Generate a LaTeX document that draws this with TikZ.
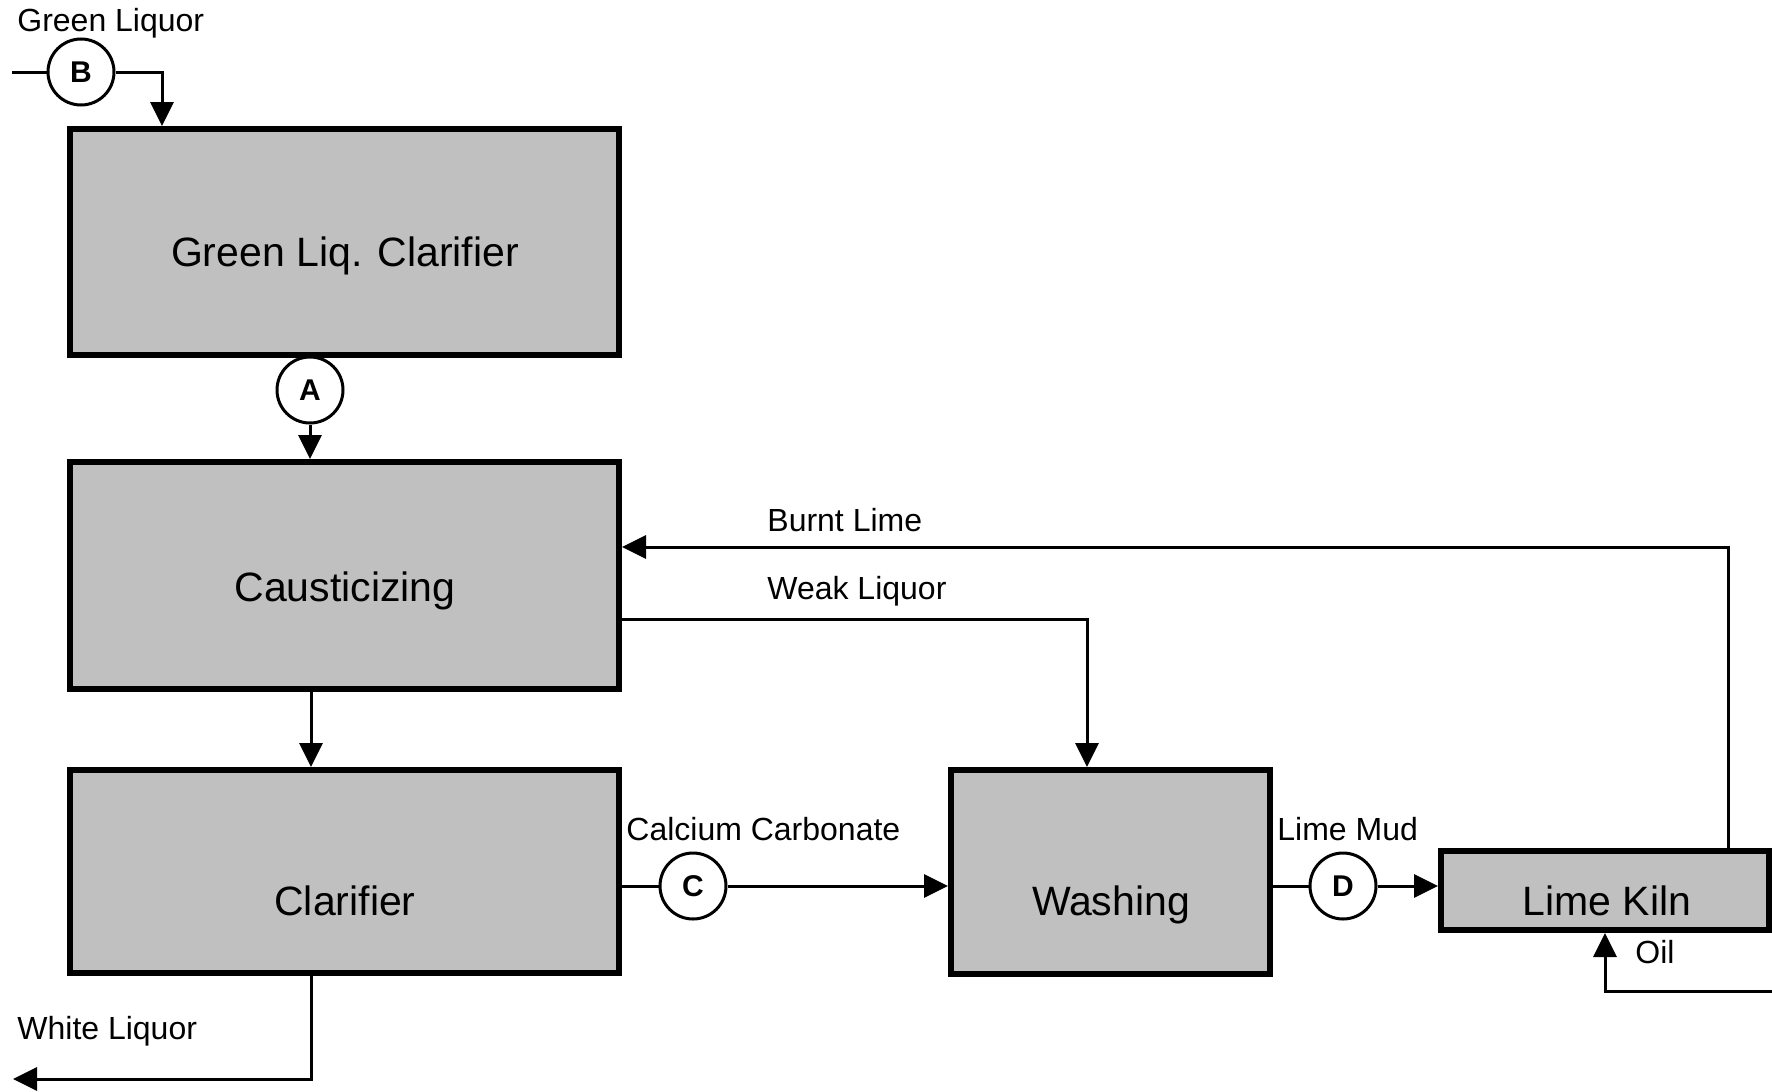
\documentclass[tikz,border=0pt]{standalone}
\usepackage{fontspec}
\setmainfont{Liberation Sans}
\usetikzlibrary{arrows.meta}
\begin{document}
\begin{tikzpicture}[x=0.5pt,y=-0.5pt,
  unitbox/.style={draw=black,line width=3pt,fill=procgray,inner sep=0pt},
  unittext/.style={anchor=base,inner sep=0pt,font=\fontsize{20.5pt}{24pt}\selectfont},
  tag/.style={draw=black,line width=1.5pt,circle,fill=white,minimum size=33pt,inner sep=0pt,
    font=\fontsize{15pt}{17pt}\selectfont\bfseries},
  streamlabel/.style={anchor=base west,inner sep=0pt,font=\fontsize{16pt}{19pt}\selectfont},
  pipe/.style={draw=black,line width=1.5pt},
  flow/.style={pipe,-{Triangle[length=12pt,width=11.5pt]}}]
\definecolor{procgray}{HTML}{C0C0C0}
\useasboundingbox (0,0) rectangle (1772,1092);

% process units
\node[unitbox,minimum width=274.5pt,minimum height=113pt] (glc) at (344.5,242) {};
\node[unitbox,minimum width=274.5pt,minimum height=113.5pt] (caus) at (344.5,575.5) {};
\node[unitbox,minimum width=274.5pt,minimum height=101.5pt] (clar) at (344.5,871.5) {};
\node[unitbox,minimum width=159.5pt,minimum height=102pt] (wash) at (1110.5,872) {};
\node[unitbox,minimum width=164pt,minimum height=39.5pt] (kiln) at (1605,890.5) {};

\node[unittext] (glc-t) at (345,266) {Green Liq. Clarifier};
\node[unittext] (caus-t) at (345,601) {Causticizing};
\node[unittext] (clar-t) at (345,915) {Clarifier};
\node[unittext] (wash-t) at (1111,915) {Washing};
\node[unittext] (kiln-t) at (1607,915) {Lime Kiln};

% sampling points
\node[tag] (B) at (81,72) {B};
\node[tag] (A) at (310,390) {A};
\node[tag] (C) at (693,886) {C};
\node[tag] (D) at (1343,886) {D};

% route points
\coordinate (gin) at (12,72);
\coordinate (gturn) at (162,72);
\coordinate (col) at (311,0);
\coordinate (wl) at (13,1079);
\coordinate (bl) at (1728,547);
\coordinate (wk) at (1087,619);
\coordinate (oil) at (1772,991);
\coordinate (oilturn) at (1605,991);

% streams
\draw[pipe] (gin) -- (B.west);
\draw[flow] (B.east) -- (gturn) -- (gturn |- glc.north);
\draw[flow] (A.south) -- (A.south |- caus.north);
\draw[flow] (caus.south -| col) -- (clar.north -| col);
\draw[flow] (clar.south -| col) |- (wl);
\draw[pipe] (clar.east |- C) -- (C.west);
\draw[flow] (C.east) -- (wash.west |- C);
\draw[pipe] (wash.east |- D) -- (D.west);
\draw[flow] (D.east) -- (kiln.west |- D);
\draw[flow] (kiln.north -| bl) -- (bl) -- (caus.east |- bl);
\draw[flow] (caus.east |- wk) -- (wk) -- (wash.north -| wk);
\draw[flow] (oil) -- (oilturn) -- (kiln.south -| oilturn);

% stream labels
\node[streamlabel] (l-gl) at (17,32) {Green Liquor};
\node[streamlabel] (l-wl) at (17,1039) {White Liquor};
\node[streamlabel] (l-bl) at (767,531) {Burnt Lime};
\node[streamlabel] (l-wk) at (767,599) {Weak Liquor};
\node[streamlabel] (l-cc) at (626,840) {Calcium Carbonate};
\node[streamlabel] (l-lm) at (1277,840) {Lime Mud};
\node[streamlabel] (l-oil) at (1635,963) {Oil};
\end{tikzpicture}
\end{document}
